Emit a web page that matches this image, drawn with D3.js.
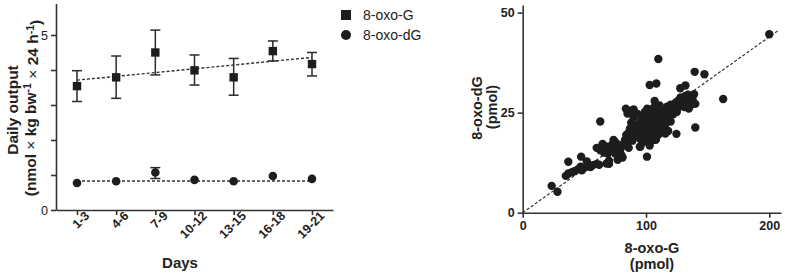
<!DOCTYPE html>
<html>
<head>
<meta charset="utf-8">
<script src="https://cdn.jsdelivr.net/npm/d3@7"></script>
<style>
  body { margin: 0; background: #fff; }
  svg { display: block; font-family: "Liberation Sans", Arial, sans-serif; }
</style>
</head>
<body>
<div id="chart"></div>
<script>
// Left panel: daily output by day range
const dayRanges = ["1-3", "4-6", "7-9", "10-12", "13-15", "16-18", "19-21"];
const oxoG     = [3.54, 3.79, 4.50, 3.99, 3.79, 4.54, 4.17];
const oxoGLow  = [3.10, 3.19, 3.86, 3.57, 3.28, 4.26, 3.83];
const oxoGHigh = [3.98, 4.40, 5.14, 4.43, 4.33, 4.83, 4.50];
const oxoDG     = [0.77, 0.82, 1.07, 0.86, 0.82, 0.97, 0.89];
const oxoDGLow  = [0.77, 0.82, 0.90, 0.86, 0.82, 0.97, 0.89];
const oxoDGHigh = [0.77, 0.82, 1.21, 0.86, 0.82, 0.97, 0.89];
const trendG  = [3.71, 4.36];   // fitted line at first and last day range
const trendDG = [0.83, 0.83];
const leftYTicks = [0, 1, 2, 3, 4, 5];
const legendNames = ["8-oxo-G", "8-oxo-dG"];

// Right panel: 8-oxo-G vs 8-oxo-dG (pmol)
const scatterG = [
  200, 110, 139.5, 147.4, 103, 108.4, 132, 162.6, 107, 62.9, 140, 124.7, 37, 47.4, 23.5, 28.2, 100.8, 83.7, 90,
  35, 37, 40, 42, 45, 47, 48, 50, 52, 53, 55, 57, 60, 62, 63, 64, 65, 66, 68, 69, 70, 70, 71, 72, 73, 75, 76, 78,
  79, 80, 81, 82, 83, 84, 85, 86, 86, 87, 88, 88, 89, 90, 90, 91, 92, 93, 93, 94, 95, 95, 96, 96, 97, 97, 98, 98,
  99, 99, 100, 100, 101, 101, 102, 102, 103, 103, 104, 104, 105, 105, 106, 106, 107, 107, 108, 108, 109, 109,
  110, 110, 111, 111, 112, 112, 113, 114, 114, 115, 116, 117, 118, 118, 119, 120, 120, 122, 123, 124, 125, 126,
  127, 128, 129, 130, 131, 132, 133, 134, 135, 136, 137, 138, 139, 140, 75, 77, 85, 88, 60, 64.8, 69.6, 68, 73.7,
  127.8, 136, 134.7, 124.7, 95.4, 106, 115.7, 92, 98, 104, 110, 116, 100, 94, 108, 112, 102, 96
];
const scatterDG = [
  44.6, 38.4, 35.2, 34.6, 31.9, 32.3, 31.8, 28.4, 27.9, 22.8, 21.3, 19.7, 12.75, 14, 6.7, 5.25, 14, 26, 25.8,
  9.2, 9.8, 10.1, 10.4, 10.9, 11.5, 10.6, 11.2, 12.8, 11.6, 11.4, 11.9, 12.2, 12.0, 15.6, 16.2, 17.0, 15.0, 16.5, 14.8, 13.0, 12.2, 15.6, 16.8, 17.2, 17.6, 16.3, 17.0,
  15.6, 14.4, 13.8, 16.8, 18.2, 19.4, 17.5, 20.0, 16.2, 21.0, 19.0, 22.5, 18.0, 20.5, 23.8, 21.8, 19.6, 22.0, 24.7, 20.8, 18.6, 16.5, 23.0, 20.0, 21.8, 17.5, 24.0, 22.5,
  19.3, 25.2, 21.0, 23.5, 18.4, 26.0, 22.0, 20.2, 24.2, 16.8, 21.5, 25.5, 19.8, 23.0, 22.2, 26.2, 20.5, 24.0, 18.2, 22.8, 21.2, 25.0,
  23.6, 19.5, 22.0, 26.8, 24.5, 20.8, 23.0, 21.6, 25.8, 24.0, 22.2, 26.5, 23.8, 20.4, 25.0, 22.8, 27.0, 24.6, 26.0, 27.5, 25.2, 28.0,
  26.6, 28.8, 27.2, 28.5, 26.4, 29.2, 27.8, 29.5, 28.2, 26.8, 29.0, 28.0, 29.6, 27.2, 14.8, 13.2, 24.8, 25.5, 16.2, 17.2, 15.7, 12.3, 18.2,
  31.1, 28.2, 26.0, 25.3, 16.5, 18.2, 19.8, 21.5, 20.8, 23.2, 21.8, 23.4, 22.6, 21.2, 22.4, 24.2, 23.8, 22.0
];
const identityX = [0, 208];
const identityY = [0, 45.7];
const rightXTicks = [0, 100, 200];
const rightYTicks = [0, 25, 50];

const ink = "#1e1c1c";
const axisColor = "#333";

const svg = d3.select("#chart")
  .append("svg")
  .attr("width", 785)
  .attr("height", 275);

// ---------- Left panel ----------
const x1 = d3.scalePoint()
  .domain(dayRanges)
  .range([56, 333])
  .padding(0.536);

const y1 = d3.scaleLinear()
  .domain([0, 5.9])
  .range([210, 3.5]);

function styleAxis(g, bold) {
  g.select(".domain").attr("stroke", axisColor).attr("stroke-width", 1.6);
  g.selectAll(".tick line").attr("stroke", axisColor).attr("stroke-width", 1.6);
  g.selectAll(".tick text")
    .attr("fill", "#222")
    .style("font-family", "'Liberation Sans', Arial, sans-serif")
    .style("font-weight", bold ? "bold" : "normal");
}

// X axis
const xAx1 = svg.append("g")
  .attr("transform", "translate(0,210)")
  .call(d3.axisBottom(x1).tickSize(5).tickSizeOuter(0));
styleAxis(xAx1, true);
xAx1.selectAll(".tick text")
  .style("font-size", "12.5px")
  .attr("text-anchor", "end")
  .attr("dx", "0.35em")
  .attr("dy", "0.45em")
  .attr("transform", "rotate(-45)");

// Y axis
const yAx1 = svg.append("g")
  .attr("transform", "translate(56,0)")
  .call(d3.axisLeft(y1).tickValues(leftYTicks).tickSize(5).tickSizeOuter(0)
    .tickFormat(d => (d === 0 || d === 5) ? d : ""));
styleAxis(yAx1, false);
yAx1.selectAll(".tick text").style("font-size", "12.5px");

// Trend lines
[trendG, trendDG].forEach(t => {
  svg.append("line")
    .attr("x1", x1(dayRanges[0]))
    .attr("x2", x1(dayRanges[dayRanges.length - 1]))
    .attr("y1", y1(t[0]))
    .attr("y2", y1(t[1]))
    .attr("stroke", "#333")
    .attr("stroke-width", 1.4)
    .attr("stroke-dasharray", "3,2");
});

// Error bars
function errorBars(vals, lo, hi) {
  const g = svg.append("g").attr("stroke", "#2a2a2a").attr("stroke-width", 1.5);
  dayRanges.forEach((d, i) => {
    if (hi[i] - lo[i] < 0.01) return;
    const cx = x1(d);
    g.append("line").attr("x1", cx).attr("x2", cx).attr("y1", y1(lo[i])).attr("y2", y1(hi[i]));
    g.append("line").attr("x1", cx - 5).attr("x2", cx + 5).attr("y1", y1(lo[i])).attr("y2", y1(lo[i]));
    g.append("line").attr("x1", cx - 5).attr("x2", cx + 5).attr("y1", y1(hi[i])).attr("y2", y1(hi[i]));
  });
}
errorBars(oxoG, oxoGLow, oxoGHigh);
errorBars(oxoDG, oxoDGLow, oxoDGHigh);

// Square markers
svg.append("g").selectAll("rect")
  .data(oxoG)
  .join("rect")
  .attr("x", (d, i) => x1(dayRanges[i]) - 4.2)
  .attr("y", d => y1(d) - 4.2)
  .attr("width", 8.4)
  .attr("height", 8.4)
  .attr("fill", ink);

// Circle markers
svg.append("g").selectAll("circle")
  .data(oxoDG)
  .join("circle")
  .attr("cx", (d, i) => x1(dayRanges[i]))
  .attr("cy", d => y1(d))
  .attr("r", 4.3)
  .attr("fill", ink);

// Legend
svg.append("rect")
  .attr("x", 341).attr("y", 10).attr("width", 10).attr("height", 10)
  .attr("fill", ink);
svg.append("circle")
  .attr("cx", 346).attr("cy", 35).attr("r", 5)
  .attr("fill", ink);
legendNames.forEach((name, i) => {
  svg.append("text")
    .attr("x", 363)
    .attr("y", 20 + i * 20)
    .style("font-size", "14px")
    .attr("fill", "#222")
    .text(name);
});

// Axis titles
svg.append("text")
  .attr("x", 180)
  .attr("y", 268)
  .attr("text-anchor", "middle")
  .style("font-size", "15px")
  .style("font-weight", "bold")
  .attr("fill", "#222")
  .text("Days");

svg.append("text")
  .attr("transform", "translate(18,110) rotate(-90)")
  .attr("text-anchor", "middle")
  .style("font-size", "15.5px")
  .style("font-weight", "bold")
  .attr("fill", "#222")
  .text("Daily output");

const yTitle2 = svg.append("text")
  .attr("transform", "translate(36,108) rotate(-90)")
  .attr("text-anchor", "middle")
  .style("font-size", "15.5px")
  .style("font-weight", "bold")
  .attr("fill", "#222");
yTitle2.append("tspan").text("(nmol ");
yTitle2.append("tspan").style("font-weight", "normal").text("\u00d7");
yTitle2.append("tspan").text(" kg bw");
yTitle2.append("tspan").attr("dy", "-0.45em").style("font-size", "10.5px").text("-1");
yTitle2.append("tspan").attr("dy", "0.45em").style("font-weight", "normal").text(" \u00d7 ");
yTitle2.append("tspan").text("24 h");
yTitle2.append("tspan").attr("dy", "-0.45em").style("font-size", "10.5px").text("-1");
yTitle2.append("tspan").attr("dy", "0.45em").text(")");

// ---------- Right panel ----------
const x2 = d3.scaleLinear()
  .domain([0, 209.5])
  .range([522.7, 781]);

const y2 = d3.scaleLinear()
  .domain([0, 51.9])
  .range([212.7, 5]);

const xAx2 = svg.append("g")
  .attr("transform", "translate(0,212.7)")
  .call(d3.axisBottom(x2).tickValues(rightXTicks).tickSize(5).tickSizeOuter(0));
styleAxis(xAx2, true);
xAx2.selectAll(".tick text").style("font-size", "12.5px");

const yAx2 = svg.append("g")
  .attr("transform", "translate(522.7,0)")
  .call(d3.axisLeft(y2).tickValues(rightYTicks).tickSize(5).tickSizeOuter(0));
styleAxis(yAx2, true);
yAx2.selectAll(".tick text").style("font-size", "12.5px");

// Dashed fit line
svg.append("line")
  .attr("x1", x2(identityX[0])).attr("y1", y2(identityY[0]))
  .attr("x2", x2(identityX[1])).attr("y2", y2(identityY[1]))
  .attr("stroke", "#333")
  .attr("stroke-width", 1.2)
  .attr("stroke-dasharray", "3,2");

// Scatter points
svg.append("g").selectAll("circle")
  .data(scatterG)
  .join("circle")
  .attr("cx", d => x2(d))
  .attr("cy", (d, i) => y2(scatterDG[i]))
  .attr("r", 4.2)
  .attr("fill", ink);

// Right titles
svg.append("text")
  .attr("x", 652)
  .attr("y", 253)
  .attr("text-anchor", "middle")
  .style("font-size", "14.5px")
  .style("font-weight", "bold")
  .attr("fill", "#222")
  .text("8-oxo-G");
svg.append("text")
  .attr("x", 652)
  .attr("y", 269)
  .attr("text-anchor", "middle")
  .style("font-size", "14.5px")
  .style("font-weight", "bold")
  .attr("fill", "#222")
  .text("(pmol)");

svg.append("text")
  .attr("transform", "translate(482,108) rotate(-90)")
  .attr("text-anchor", "middle")
  .style("font-size", "14.5px")
  .style("font-weight", "bold")
  .attr("fill", "#222")
  .text("8-oxo-dG");
svg.append("text")
  .attr("transform", "translate(497,107) rotate(-90)")
  .attr("text-anchor", "middle")
  .style("font-size", "14.5px")
  .style("font-weight", "bold")
  .attr("fill", "#222")
  .text("(pmol)");
</script>
</body>
</html>
